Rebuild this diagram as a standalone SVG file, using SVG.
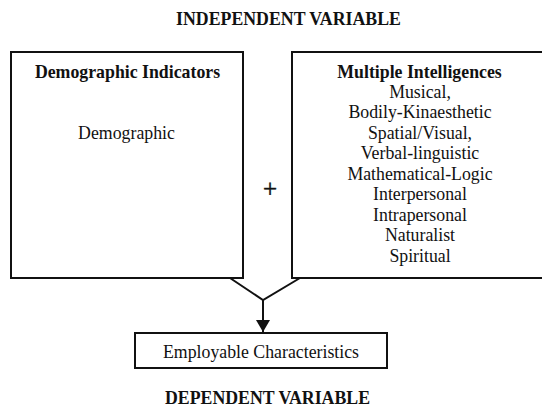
<svg xmlns="http://www.w3.org/2000/svg" width="542" height="410" viewBox="0 0 542 410">
  <style>
    .box { fill: #fff; stroke: #111; stroke-width: 2; }
    .t { font-family: 'Liberation Serif', 'Times New Roman', serif; fill: #111; text-anchor: middle; }
    .h { font-size: 17.8px; font-weight: bold; }
    .b { font-size: 17.8px; }
    .conn { fill: none; stroke: #111; stroke-width: 2; }
  </style>
  <defs>
    <marker id="arrow" viewBox="0 0 12 14" refX="12" refY="7" markerWidth="12" markerHeight="14" markerUnits="userSpaceOnUse" orient="auto">
      <path d="M0,0 L12,7 L0,14 Z" fill="#111"/>
    </marker>
  </defs>

  <rect width="542" height="410" fill="#fff"/>

  <text class="t h" x="288.5" y="25">INDEPENDENT VARIABLE</text>

  <g id="demographic">
    <rect class="box" x="11" y="52" width="232" height="226"/>
    <text class="t h" x="127.5" y="78">Demographic Indicators</text>
    <text class="t b" x="126.5" y="139">Demographic</text>
  </g>

  <g id="plus">
    <text class="t" x="270" y="197" font-size="25" stroke="#111" stroke-width="0.5">+</text>
  </g>

  <g id="intelligences">
    <rect class="box" x="292" y="52" width="260" height="226"/>
    <text class="t h" x="419.5" y="78">Multiple Intelligences</text>
    <text class="t b" x="420" y="97.5">Musical,</text>
    <text class="t b" x="420" y="118">Bodily-Kinaesthetic</text>
    <text class="t b" x="420" y="138.5">Spatial/Visual,</text>
    <text class="t b" x="420" y="159">Verbal-linguistic</text>
    <text class="t b" x="420" y="179.5">Mathematical-Logic</text>
    <text class="t b" x="420" y="200">Interpersonal</text>
    <text class="t b" x="420" y="220.5">Intrapersonal</text>
    <text class="t b" x="420" y="241">Naturalist</text>
    <text class="t b" x="420" y="261.5">Spiritual</text>
  </g>

  <g id="connectors">
    <polyline class="conn" points="230,278 263,300 300,278"/>
    <line class="conn" x1="263" y1="300" x2="263" y2="332" marker-end="url(#arrow)"/>
  </g>

  <g id="employable">
    <rect class="box" x="135" y="333" width="252" height="35"/>
    <text class="t b" x="261" y="358">Employable Characteristics</text>
  </g>

  <text class="t h" x="267.5" y="404">DEPENDENT VARIABLE</text>
</svg>
